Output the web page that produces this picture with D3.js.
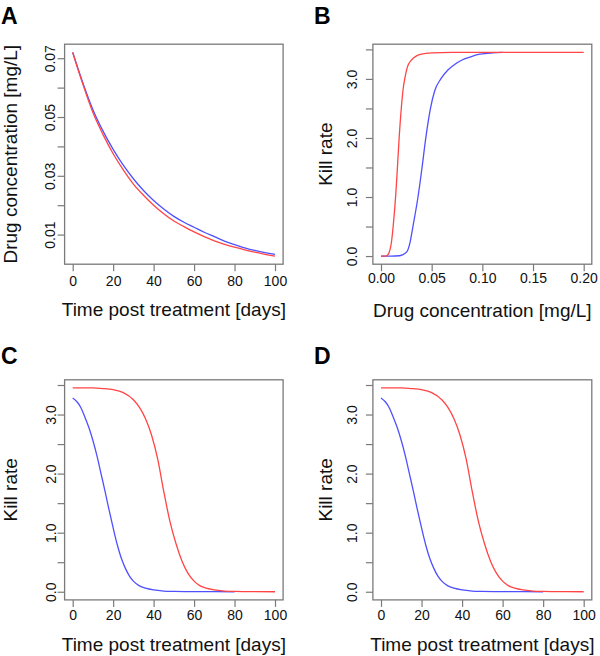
<!DOCTYPE html>
<html>
<head>
<meta charset="utf-8">
<script src="https://cdn.jsdelivr.net/npm/d3@7"></script>
<style>
  html, body { margin: 0; padding: 0; background: #fff; }
  svg { display: block; font-family: "Liberation Sans", Arial, Helvetica, sans-serif; }
</style>
</head>
<body>
<svg id="chart" width="600" height="656"></svg>
<script>
// ---------- DATA ----------
// Panel A: drug concentration [mg/L] vs time post treatment [days]
const timeDays   = [0, 5, 10, 15, 20, 25, 30, 35, 40, 45, 50, 55, 60, 65, 70, 75, 80, 85, 90, 95, 100];
const concRed    = [0.0720, 0.0612, 0.0515, 0.0440, 0.0375, 0.0320, 0.0272, 0.0234, 0.0200, 0.0171, 0.0146, 0.0127, 0.0109, 0.0093, 0.0079, 0.0067, 0.0057, 0.0048, 0.0040, 0.0033, 0.0027];
const concBlue   = [0.0720, 0.0617, 0.0525, 0.0452, 0.0390, 0.0336, 0.0290, 0.0250, 0.0216, 0.0187, 0.0162, 0.0142, 0.0125, 0.0108, 0.0093, 0.0078, 0.0066, 0.0055, 0.0046, 0.0039, 0.0033];

// Panel B: kill rate vs drug concentration [mg/L]
const doseRed    = [0, 0.004, 0.006, 0.008, 0.010, 0.012, 0.0134, 0.0146, 0.0162, 0.0179, 0.0200, 0.022, 0.0234, 0.026, 0.030, 0.035, 0.040, 0.050, 0.070, 0.100, 0.150, 0.200];
const killRed    = [0, 0, 0.01, 0.06, 0.20, 0.50, 0.78, 1.05, 1.50, 2.00, 2.50, 2.85, 3.00, 3.20, 3.32, 3.39, 3.42, 3.44, 3.45, 3.45, 3.45, 3.45];
const doseBlue   = [0, 0.010, 0.018, 0.021, 0.0254, 0.0285, 0.0315, 0.0365, 0.0405, 0.0442, 0.0488, 0.053, 0.059, 0.066, 0.073, 0.080, 0.0878, 0.095, 0.1026, 0.110, 0.120];
const killBlue   = [0, 0, 0.005, 0.02, 0.07, 0.22, 0.50, 1.00, 1.50, 2.00, 2.50, 2.80, 3.00, 3.15, 3.25, 3.32, 3.37, 3.41, 3.43, 3.44, 3.45];

// Panels C and D: kill rate vs time post treatment [days]
const timeKillRed  = [0, 10, 15, 20, 25, 30, 33, 36, 39, 42, 45, 48, 51, 54, 57, 60, 63, 66, 70, 75, 80, 90, 100];
const killTimeRed  = [3.45, 3.45, 3.44, 3.42, 3.37, 3.25, 3.12, 2.93, 2.65, 2.25, 1.70, 1.20, 0.82, 0.52, 0.31, 0.18, 0.10, 0.06, 0.03, 0.012, 0.005, 0.001, 0];
const timeKillBlue = [0, 2, 4, 6, 8, 10, 12, 14, 16, 18, 20, 22, 24, 26, 28, 30, 33, 36, 40, 45, 50, 60, 70, 80];
const killTimeBlue = [3.28, 3.22, 3.12, 2.96, 2.78, 2.56, 2.30, 2.00, 1.70, 1.38, 1.08, 0.80, 0.57, 0.40, 0.27, 0.18, 0.10, 0.06, 0.03, 0.012, 0.006, 0.002, 0.0005, 0];

// Tick values / labels
const ticksTime      = [0, 20, 40, 60, 80, 100];
const ticksConcY     = [0.01, 0.02, 0.03, 0.04, 0.05, 0.06, 0.07];
const labelsConcY    = [0.01, 0.03, 0.05, 0.07];
const ticksDoseX     = [0, 0.05, 0.10, 0.15, 0.20];
const ticksKillY     = [0, 0.5, 1.0, 1.5, 2.0, 2.5, 3.0, 3.5];
const labelsKillY    = [0, 1, 2, 3];

const panelLetters = ["A", "B", "C", "D"];
const xTitles = ["Time post treatment [days]", "Drug concentration [mg/L]", "Time post treatment [days]", "Time post treatment [days]"];
const yTitles = ["Drug concentration [mg/L]", "Kill rate", "Kill rate", "Kill rate"];

// ---------- LAYOUT ----------
const RED = "#ff4545", BLUE = "#5050ff", BOX = "#7a7a7a";
const zip = (xs, ys) => xs.map((x, i) => [x, ys[i]]);

const panels = [
  { letter: panelLetters[0], lx: 1, ly: 23.5,
    box: [64.6, 283.1, 44.2, 264.2],
    series: [ {d: zip(timeDays, concBlue), c: BLUE}, {d: zip(timeDays, concRed), c: RED} ],
    xt: ticksTime, xf: d3.format("d"), yt: ticksConcY, yl: labelsConcY, yf: d3.format(".2f"),
    xTitle: xTitles[0], yTitle: yTitles[0],
    xLabBase: 285.7, xTitleBase: 316, yLabBase: 55, yTitleBase: 16.5 },
  { letter: panelLetters[1], lx: 314, ly: 24,
    box: [372.9, 591.8, 44.2, 264.2],
    series: [ {d: zip(doseBlue, killBlue), c: BLUE}, {d: zip(doseRed, killRed), c: RED} ],
    xt: ticksDoseX, xf: d3.format(".2f"), yt: ticksKillY, yl: labelsKillY, yf: d3.format(".1f"),
    xTitle: xTitles[1], yTitle: yTitles[1],
    xLabBase: 283.5, xTitleBase: 316.5, yLabBase: 357.3, yTitleBase: 331.7 },
  { letter: panelLetters[2], lx: 1, ly: 364.3,
    box: [64.6, 283.1, 379.8, 599.9],
    series: [ {d: zip(timeKillBlue, killTimeBlue), c: BLUE}, {d: zip(timeKillRed, killTimeRed), c: RED} ],
    xt: ticksTime, xf: d3.format("d"), yt: ticksKillY, yl: labelsKillY, yf: d3.format(".1f"),
    xTitle: xTitles[2], yTitle: yTitles[2],
    xLabBase: 620, xTitleBase: 650.5, yLabBase: 56, yTitleBase: 17.3 },
  { letter: panelLetters[3], lx: 314, ly: 364.3,
    box: [372.9, 591.8, 379.8, 599.9],
    series: [ {d: zip(timeKillBlue, killTimeBlue), c: BLUE}, {d: zip(timeKillRed, killTimeRed), c: RED} ],
    xt: ticksTime, xf: d3.format("d"), yt: ticksKillY, yl: labelsKillY, yf: d3.format(".1f"),
    xTitle: xTitles[3], yTitle: yTitles[3],
    xLabBase: 620, xTitleBase: 650.5, yLabBase: 357.3, yTitleBase: 331.7 }
];

const svg = d3.select("#chart");
const TICK = 7;

function padded(ext) { const r = ext[1] - ext[0]; return [ext[0] - 0.04 * r, ext[1] + 0.04 * r]; }

panels.forEach(p => {
  const [x0, x1, y0, y1] = p.box;
  const allPts = p.series.flatMap(s => s.d);
  const xs = d3.scaleLinear().domain(padded(d3.extent(allPts, d => d[0]))).range([x0, x1]);
  const ys = d3.scaleLinear().domain(padded(d3.extent(allPts, d => d[1]))).range([y1, y0]);

  const g = svg.append("g");

  // curves
  const line = d3.line().x(d => xs(d[0])).y(d => ys(d[1])).curve(d3.curveMonotoneX);
  p.series.forEach(s => {
    g.append("path").attr("d", line(s.d)).attr("fill", "none")
      .attr("stroke", s.c).attr("stroke-width", 1.3).attr("stroke-linejoin", "round");
  });

  // box
  g.append("rect").attr("x", x0).attr("y", y0).attr("width", x1 - x0).attr("height", y1 - y0)
    .attr("fill", "none").attr("stroke", BOX).attr("stroke-width", 1.3);

  // x axis
  const gx = g.append("g").attr("transform", `translate(0,${y1})`)
    .call(d3.axisBottom(xs).tickValues(p.xt).tickFormat(p.xf).tickSize(TICK).tickSizeOuter(0));
  gx.select(".domain").remove();
  gx.selectAll(".tick line").attr("stroke", BOX).attr("stroke-width", 1.2);
  gx.selectAll(".tick text").attr("y", p.xLabBase - y1).attr("dy", 0)
    .attr("fill", "#111").style("font-size", "14px");

  // y axis
  const gy = g.append("g").attr("transform", `translate(${x0},0)`)
    .call(d3.axisLeft(ys).tickValues(p.yt)
      .tickFormat(v => p.yl.some(l => Math.abs(l - v) < 1e-9) ? p.yf(v) : "")
      .tickSize(TICK).tickSizeOuter(0));
  gy.select(".domain").remove();
  gy.selectAll(".tick line").attr("stroke", BOX).attr("stroke-width", 1.2);
  gy.selectAll(".tick text")
    .attr("x", null).attr("dy", null).attr("text-anchor", "middle")
    .attr("transform", `translate(${p.yLabBase - x0},0) rotate(-90)`)
    .attr("fill", "#111").style("font-size", "14px");

  // axis titles
  g.append("text").attr("x", (x0 + x1) / 2).attr("y", p.xTitleBase)
    .attr("text-anchor", "middle").style("font-size", "19px").attr("fill", "#111").text(p.xTitle);
  g.append("text").attr("transform", `translate(${p.yTitleBase},${(y0 + y1) / 2}) rotate(-90)`)
    .attr("text-anchor", "middle").style("font-size", "19px").attr("fill", "#111").text(p.yTitle);

  // panel letter
  g.append("text").attr("x", p.lx).attr("y", p.ly)
    .style("font-size", "23px").style("font-weight", "bold").attr("fill", "#000").text(p.letter);
});
</script>
</body>
</html>
